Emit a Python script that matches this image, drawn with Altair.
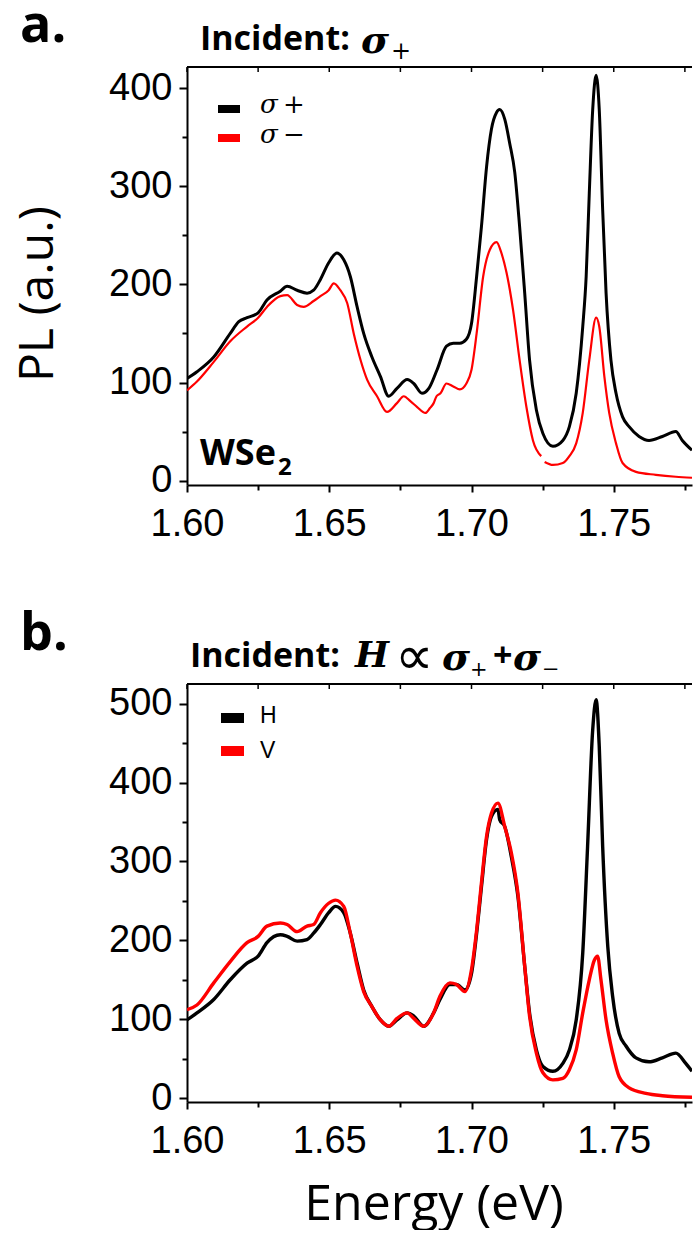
import altair as alt
import pandas as pd

# ---------------- data ----------------
X_TICKS = [1.600, 1.625, 1.650, 1.675, 1.700, 1.725, 1.750, 1.775]
YA_TICKS = [0, 50, 100, 150, 200, 250, 300, 350, 400]
YB_TICKS = [0, 50, 100, 150, 200, 250, 300, 350, 400, 450, 500]

# panel a, detected sigma+ (black)
a_sp_E = [1.6000, 1.6035, 1.6094, 1.6152, 1.6182, 1.6211, 1.6250, 1.6281, 1.6328, 1.6352,
          1.6387, 1.6422, 1.6445, 1.6469, 1.6498, 1.6527, 1.6551, 1.6574, 1.6598, 1.6621,
          1.6650, 1.6680, 1.6709, 1.6738, 1.6774, 1.6797, 1.6826, 1.6850, 1.6879, 1.6912,
          1.6936, 1.6959, 1.6982, 1.7000, 1.7018, 1.7035, 1.7053, 1.7070, 1.7088, 1.7099,
          1.7117, 1.7134, 1.7152, 1.7169, 1.7187, 1.7204, 1.7228, 1.7251, 1.7286, 1.7321,
          1.7344, 1.7368, 1.7391, 1.7403, 1.7414, 1.7426, 1.7438, 1.7449, 1.7461, 1.7473,
          1.7490, 1.7508, 1.7531, 1.7554, 1.7589, 1.7624, 1.7671, 1.7718, 1.7741, 1.7775]
a_sp_I = [104, 111, 126, 150, 162, 166, 171, 184, 193, 198,
          194, 191, 194, 205, 222, 232, 225, 208, 177, 150,
          126, 106, 86, 94, 103, 99, 89, 94, 113, 137,
          140, 140, 144, 160, 208, 259, 320, 358, 375, 378,
          368, 344, 314, 259, 191, 123, 72, 48, 35, 41,
          55, 89, 157, 208, 293, 378, 413, 378, 276, 191,
          123, 89, 65, 55, 45, 41, 45, 50, 41, 31]

# panel a, detected sigma- (red)
a_sm_E = [1.6000, 1.6035, 1.6094, 1.6152, 1.6211, 1.6250, 1.6281, 1.6328, 1.6352, 1.6387,
          1.6410, 1.6445, 1.6469, 1.6498, 1.6516, 1.6539, 1.6563, 1.6586, 1.6610, 1.6633,
          1.6668, 1.6703, 1.6738, 1.6762, 1.6785, 1.6809, 1.6838, 1.6854, 1.6867, 1.6877,
          1.6891, 1.6912, 1.6936, 1.6959, 1.6982, 1.7000, 1.7018, 1.7041, 1.7064, 1.7088,
          1.7105, 1.7123, 1.7146, 1.7169, 1.7193, 1.7216, 1.7245,
          1.7257, 1.7286, 1.7321, 1.7344, 1.7368, 1.7391, 1.7414, 1.7438, 1.7449, 1.7467,
          1.7484, 1.7508, 1.7531, 1.7578, 1.7648, 1.7718, 1.7775]
a_sm_I = [92, 101, 121, 142, 157, 166, 177, 188, 189, 179,
          177, 183, 188, 194, 201, 194, 181, 150, 123, 103,
          86, 70, 79, 86, 81, 75, 69, 74, 79, 86,
          89, 99, 96, 93, 99, 113, 150, 208, 235, 243,
          232, 212, 174, 123, 75, 41, 25,
          19, 16, 18, 25, 38, 69, 123, 166, 157, 106,
          69, 38, 18, 9, 6, 4, 3]
a_sm_seg = [0] * 47 + [1] * 17

# panel b, detected H (black)
b_h_E = [1.6000, 1.6035, 1.6094, 1.6152, 1.6211, 1.6250, 1.6281, 1.6328, 1.6352, 1.6387,
         1.6422, 1.6445, 1.6469, 1.6498, 1.6522, 1.6551, 1.6574, 1.6598, 1.6621, 1.6650,
         1.6680, 1.6709, 1.6738, 1.6774, 1.6797, 1.6832, 1.6867, 1.6889, 1.6924, 1.6947,
         1.6977, 1.7000, 1.7018, 1.7035, 1.7053, 1.7070, 1.7093, 1.7099, 1.7117, 1.7140,
         1.7163, 1.7187, 1.7204, 1.7228, 1.7251, 1.7286, 1.7321, 1.7344, 1.7368, 1.7391,
         1.7408, 1.7426, 1.7438, 1.7449, 1.7461, 1.7479, 1.7496, 1.7519, 1.7543, 1.7578,
         1.7624, 1.7671, 1.7718, 1.7753, 1.7775]
b_h_I = [99, 108, 125, 150, 171, 180, 197, 207, 205, 199,
         201, 209, 220, 235, 243, 235, 209, 171, 137, 116,
         99, 91, 99, 108, 104, 91, 108, 125, 144, 144,
         137, 158, 209, 268, 328, 357, 366, 353, 344, 306,
         256, 167, 108, 61, 40, 34, 44, 61, 99, 184,
         319, 467, 505, 446, 319, 192, 129, 82, 66, 51,
         46, 51, 57, 44, 34]

# panel b, detected V (red)
b_v_E = [1.6000, 1.6035, 1.6094, 1.6152, 1.6211, 1.6250, 1.6281, 1.6328, 1.6352, 1.6387,
         1.6422, 1.6445, 1.6469, 1.6498, 1.6522, 1.6551, 1.6574, 1.6598, 1.6621, 1.6650,
         1.6680, 1.6709, 1.6738, 1.6774, 1.6797, 1.6832, 1.6867, 1.6889, 1.6924, 1.6947,
         1.6977, 1.7000, 1.7018, 1.7035, 1.7053, 1.7070, 1.7093, 1.7117, 1.7140, 1.7163,
         1.7187, 1.7204, 1.7228, 1.7251, 1.7286, 1.7321, 1.7344, 1.7368, 1.7391, 1.7414,
         1.7432, 1.7443, 1.7455, 1.7473, 1.7496, 1.7519, 1.7554, 1.7613, 1.7671, 1.7775]
b_v_I = [112, 118, 146, 173, 197, 205, 218, 222, 220, 211,
         218, 220, 235, 247, 251, 243, 209, 167, 135, 116,
         99, 91, 101, 108, 101, 91, 108, 129, 146, 144,
         135, 163, 213, 273, 332, 361, 374, 344, 311, 260,
         167, 104, 57, 32, 23, 25, 36, 61, 108, 150,
         175, 180, 150, 99, 57, 27, 13, 6, 3, 1]

A_NAMES = ["\u03c3 +", "\u03c3 \u2212"]
B_NAMES = ["H", "V"]
COLORS = ["black", "red"]

# ---------------- chart ----------------
df_a = pd.concat([
    pd.DataFrame({"E": a_sp_E, "I": a_sp_I, "s": A_NAMES[0], "seg": 0}),
    pd.DataFrame({"E": a_sm_E, "I": a_sm_I, "s": A_NAMES[1], "seg": a_sm_seg}),
])
df_b = pd.concat([
    pd.DataFrame({"E": b_h_E, "I": b_h_I, "s": B_NAMES[0], "seg": 0}),
    pd.DataFrame({"E": b_v_E, "I": b_v_I, "s": B_NAMES[1], "seg": 0}),
])
df_ticks = pd.DataFrame({"E": X_TICKS})

# plot area reaches the right edge of the page (the frame's right side is off-page)
W, H = 505, 418
XDOM = [1.60, 1.7775]


def tick_cond(test, big, small):
    return {"condition": {"test": test, "value": big}, "value": small}


def x_enc():
    return alt.X(
        "E:Q",
        scale=alt.Scale(domain=XDOM, nice=False, zero=False),
        axis=alt.Axis(
            values=X_TICKS, title=None, grid=False, labelFlush=False, labelOverlap=False,
            labelExpr="round(datum.value*1000) % 50 == 0 ? format(datum.value, '.2f') : ''",
            tickSize=tick_cond("round(datum.value*1000) % 50 == 0", 7, 5),
            labelPadding=13,
        ),
    )


def y_enc(dom, ticks):
    return alt.Y(
        "I:Q",
        scale=alt.Scale(domain=dom, nice=False, zero=False),
        axis=alt.Axis(
            values=ticks, title=None, grid=False, labelOverlap=False, labelFlush=False,
            labelExpr="datum.value % 100 == 0 ? format(datum.value, 'd') : ''",
            tickSize=tick_cond("datum.value % 100 == 0", 8, 5),
            labelPadding=7,
        ),
    )


def one_row():
    return alt.Chart(pd.DataFrame({"t": [0]}))


def txt(text, x, y, size, font="Open Sans", weight="normal", style="normal",
        angle=0, align="left", baseline="alphabetic"):
    return alt.Chart(pd.DataFrame({"t": [text]})).mark_text(
        font=font, fontSize=size, fontWeight=weight, fontStyle=style,
        angle=angle, align=align, baseline=baseline, color="black",
    ).encode(x=alt.value(x), y=alt.value(y), text="t:N")


def hline(x1, x2, y, color, width):
    return one_row().mark_rule(color=color, strokeWidth=width, strokeCap="butt").encode(
        x=alt.value(x1), x2=alt.value(x2), y=alt.value(y))


def panel(df, names, ydom, yticks, widths, texts):
    color = alt.Color("s:N", scale=alt.Scale(domain=names, range=COLORS), legend=None)
    base = alt.Chart(df)
    l1 = base.transform_filter(alt.datum.s == names[0]).mark_line(
        strokeWidth=widths[0], clip=True, interpolate="monotone").encode(
        x=x_enc(), y=y_enc(ydom, yticks), color=color, detail="seg:N")
    l2 = base.transform_filter(alt.datum.s == names[1]).mark_line(
        strokeWidth=widths[1], clip=True, interpolate="monotone").encode(
        x=x_enc(), y=y_enc(ydom, yticks), color=color, detail="seg:N")
    top_frame = hline(0, W, 0, "black", 2)
    top_ticks = alt.Chart(df_ticks).mark_rule(color="black", strokeWidth=1.5).encode(
        x=x_enc(), y=alt.value(0), y2=alt.value(5))
    return alt.layer(l1, l2, top_frame, top_ticks, *texts).properties(width=W, height=H)


# invisible (white) anchor fixing the top-left corner of the page
anchor = one_row().mark_point(shape="square", size=4, filled=True, color="white",
                              opacity=1, strokeWidth=0).encode(
    x=alt.value(-186), y=alt.value(-66))

texts_a = [
    anchor,
    txt("a.", -167, -66, 52, weight="bold", baseline="top"),
    txt("Incident:", 13, -17, 34, weight="bold"),
    txt("\u03c3", 174, -14, 38, font="DejaVu Serif", weight="bold", style="italic"),
    txt("+", 204, -8, 24, font="DejaVu Serif"),
    # legend
    hline(31, 53, 42, COLORS[0], 8),
    hline(31, 53, 71, COLORS[1], 8),
    txt("\u03c3", 73, 46, 26, font="DejaVu Serif", style="italic"),
    txt("+", 96, 46, 26, font="DejaVu Serif"),
    txt("\u03c3", 73, 76, 26, font="DejaVu Serif", style="italic"),
    txt("\u2212", 96, 76, 26, font="DejaVu Serif"),
    # sample label
    txt("WSe", 13, 398, 36, weight="bold"),
    txt("2", 91, 408, 24, weight="bold"),
    txt("PL (a.u.)", -134, 227, 48, angle=270, align="center"),
]
texts_b = [
    txt("b.", -167, -34, 52, weight="bold"),
    txt("Incident:", 3, -17, 34, weight="bold"),
    txt("H", 168, -17, 36, font="DejaVu Serif", weight="bold", style="italic"),
    txt("\u221d", 208, -10, 54, font="DejaVu Sans"),
    txt("\u03c3", 255, -14, 38, font="DejaVu Serif", weight="bold", style="italic"),
    txt("+", 283, -8, 21, font="DejaVu Serif"),
    txt("+", 306, -17, 34, weight="bold"),
    txt("\u03c3", 326, -14, 38, font="DejaVu Serif", weight="bold", style="italic"),
    txt("\u2212", 355, -8, 21, font="DejaVu Serif"),
    # legend
    hline(34, 57, 34, COLORS[0], 10),
    hline(34, 57, 67, COLORS[1], 10),
    txt("H", 73, 39, 23, font="Liberation Sans"),
    txt("V", 73, 74, 23, font="Liberation Sans"),
    # x-axis title
    txt("Energy (eV)", 247, 536, 50, align="center"),
]

pa = panel(df_a, A_NAMES, [-4.4, 421.4], YA_TICKS, [3.0, 2.2], texts_a)
pb = panel(df_b, B_NAMES, [-5, 525], YB_TICKS, [3.4, 3.4], texts_b)

chart = alt.vconcat(pa, pb, spacing=199, bounds="flush").resolve_scale(
    x="independent", y="independent", color="independent"
).properties(
    padding=0, background="white"
).configure_view(
    stroke=None
).configure_axis(
    domainColor="black", domainWidth=2, tickColor="black", tickWidth=2,
    labelFont="Liberation Sans", labelFontSize=38, labelColor="black",
)

chart.save("out.html", embed_options={"renderer": "svg", "actions": False})
